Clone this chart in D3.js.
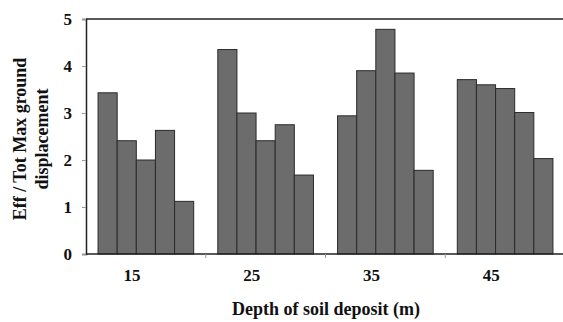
<!doctype html>
<html lang="en">
<head>
  <meta charset="utf-8">
  <title>Eff / Tot max ground displacement</title>
  <script src="https://cdn.jsdelivr.net/npm/d3@7"></script>
  <style>
    body { margin: 0; background: #fff; }
    text { font-family: "Liberation Serif", "Times New Roman", serif; font-weight: bold; fill: #111; }
  </style>
</head>
<body>
<svg id="chart" width="563" height="322"></svg>
<script>
// depths of soil deposit (m)
var depths = ["15", "25", "35", "45"];
// five bars per depth
var ratios15 = [3.43, 2.41, 2.00, 2.63, 1.12];
var ratios25 = [4.35, 3.00, 2.41, 2.75, 1.68];
var ratios35 = [2.94, 3.90, 4.78, 3.85, 1.78];
var ratios45 = [3.71, 3.60, 3.52, 3.01, 2.03];
var yTicks = [0, 1, 2, 3, 4, 5];

var groups = [ratios15, ratios25, ratios35, ratios45];

var svg = d3.select("#chart");
var mLeft = 86, mRight = 565, mTop = 19, mBottom = 254;

var x = d3.scaleBand().domain(depths).range([mLeft, mRight]);
var inner = d3.scaleBand().domain(d3.range(5)).range([0, x.bandwidth()]).paddingOuter(0.63);
var y = d3.scaleLinear().domain([0, 5]).range([mBottom, mTop]);

// bars
groups.forEach(function(vals, i) {
  svg.append("g")
    .attr("transform", "translate(" + x(depths[i]) + ",0)")
    .selectAll("rect")
    .data(vals)
    .enter().append("rect")
      .attr("x", function(d, j) { return inner(j); })
      .attr("width", inner.bandwidth())
      .attr("y", function(d) { return y(d); })
      .attr("height", function(d) { return mBottom - y(d); })
      .attr("fill", "#6c6c6c")
      .attr("stroke", "#2a2a2a")
      .attr("stroke-width", 1);
});

// top frame
svg.append("line")
  .attr("x1", mLeft).attr("x2", 563)
  .attr("y1", mTop).attr("y2", mTop)
  .attr("stroke", "#222").attr("stroke-width", 1.5);

// y axis
var yAxis = svg.append("g")
  .attr("transform", "translate(" + mLeft + ",0)")
  .call(d3.axisLeft(y).tickValues(yTicks).tickSize(4).tickPadding(10).tickFormat(d3.format("d")));
yAxis.select(".domain").attr("stroke", "#222").attr("stroke-width", 1.5);
yAxis.selectAll(".tick line").attr("stroke", "#999");
yAxis.selectAll("text").style("font-size", "17px");

// x axis: ticks at category boundaries
var xAxis = svg.append("g")
  .attr("transform", "translate(0," + mBottom + ")");
xAxis.append("line")
  .attr("x1", mLeft).attr("x2", 563)
  .attr("stroke", "#222").attr("stroke-width", 1.5);
xAxis.selectAll("line.tk")
  .data(depths.slice(1))
  .enter().append("line")
    .attr("class", "tk")
    .attr("x1", function(d) { return x(d); })
    .attr("x2", function(d) { return x(d); })
    .attr("y1", 0).attr("y2", 4)
    .attr("stroke", "#999");
xAxis.selectAll("text")
  .data(depths)
  .enter().append("text")
    .attr("x", function(d) { return x(d) + x.bandwidth() / 2 - 14; })
    .attr("y", 27)
    .attr("text-anchor", "middle")
    .style("font-size", "17px")
    .text(function(d) { return d; });

// axis titles
svg.append("text")
  .attr("x", 326).attr("y", 315)
  .attr("text-anchor", "middle")
  .style("font-size", "18px")
  .text("Depth of soil deposit (m)");

var yt = svg.append("text")
  .attr("transform", "translate(0,139) rotate(-90)")
  .attr("text-anchor", "middle")
  .style("font-size", "18px");
yt.append("tspan").attr("x", 0).attr("y", 26).text("Eff / Tot Max ground");
yt.append("tspan").attr("x", 0).attr("y", 48).text("displacement");
</script>
</body>
</html>
